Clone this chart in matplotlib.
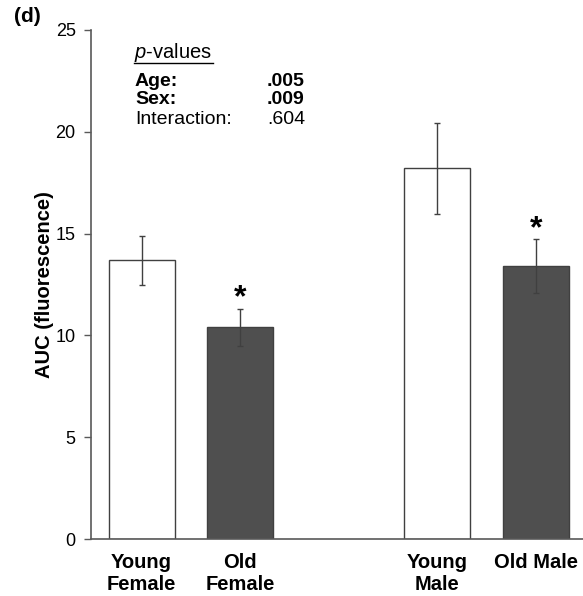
import matplotlib
matplotlib.use('Agg')
import matplotlib.pyplot as plt
import numpy as np

# data
groups = ['Young\nFemale', 'Old\nFemale', 'Young\nMale', 'Old Male']
positions = [0, 1, 3, 4]
auc_mean = [13.7, 10.4, 18.2, 13.4]
auc_sem = [1.2, 0.92, 2.23, 1.33]
significant = [False, True, False, True]
bar_colors = ['white', '#4f4f4f', 'white', '#4f4f4f']

p_labels = ['Age:', 'Sex:', 'Interaction:']
p_values = ['.005', '.009', '.604']
p_bold = [True, True, False]

plt.rcParams['font.family'] = ['Liberation Sans', 'DejaVu Sans']
plt.rcParams['mathtext.fontset'] = 'custom'
plt.rcParams['mathtext.it'] = 'Liberation Sans:italic'
plt.rcParams['mathtext.rm'] = 'Liberation Sans'

W, H = 583, 596
fig = plt.figure(figsize=(W / 100, H / 100), dpi=100)
ax = fig.add_axes([91 / W, 1 - 539 / H, 1 - 91 / W, (539 - 30) / H])

edge = '#404040'
ax.bar(positions, auc_mean, width=0.67, color=bar_colors, edgecolor=edge,
       linewidth=1.0, zorder=2)
ax.errorbar(positions, auc_mean, yerr=auc_sem, fmt='none', ecolor=edge,
            elinewidth=1.0, capsize=2.5, capthick=1.0, zorder=3)

# significance stars
for x, m, e, s in zip(positions, auc_mean, auc_sem, significant):
    if s:
        ax.text(x, m + e - 0.25, '*', ha='center', va='bottom',
                fontsize=23, fontweight='bold')

ax.set_xlim(-0.513, 4.48)
ax.set_ylim(0, 25)
ax.set_yticks([0, 5, 10, 15, 20, 25])
ax.set_xticks(positions)
ax.set_xticklabels(groups, fontsize=14.5, fontweight='bold', linespacing=1.2)
ax.tick_params(axis='x', length=0, pad=10)
ax.tick_params(axis='y', length=5, width=1, color='#595959', labelsize=13,
               pad=6)

for side in ['top', 'right']:
    ax.spines[side].set_visible(False)
for side in ['left', 'bottom']:
    ax.spines[side].set_color('#595959')
    ax.spines[side].set_linewidth(1.2)

ax.set_ylabel('AUC (fluorescence)', fontsize=14.5, fontweight='bold',
              labelpad=1)

fig.text(14 / W, 1 - 17 / H, '(d)', fontsize=15, fontweight='bold',
         va='center', ha='left')

# p-value box
fig.text(134 / W, 1 - 52 / H, r'$\it{p}$-values', fontsize=14.5,
         va='center', ha='left')
fig.add_artist(plt.Line2D([134 / W, 213 / W], [1 - 63 / H, 1 - 63 / H],
                          color='black', lw=1))
ys = [81, 100, 119]
for lab, val, b, y in zip(p_labels, p_values, p_bold, ys):
    w = 'bold' if b else 'normal'
    fig.text(135 / W, 1 - y / H, lab, fontsize=14, fontweight=w,
             va='center', ha='left')
    fig.text(267 / W, 1 - y / H, val, fontsize=14, fontweight=w,
             va='center', ha='left')

fig.savefig('out.png', dpi=100)
